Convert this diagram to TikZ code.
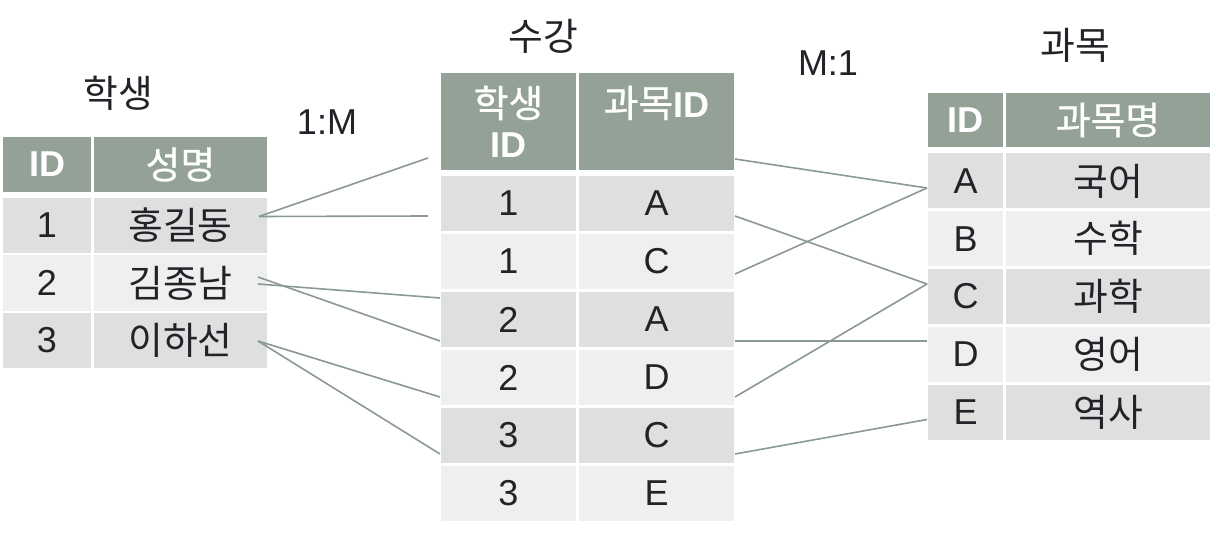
\documentclass[tikz,border=0pt]{standalone}
\usepackage{fontspec}
\setmainfont{Liberation Sans}
\newfontfamily\kr{Noto Sans CJK KR}[Scale=1.05]
\newfontfamily\krh{Noto Sans CJK KR}[Scale=1.05,FakeBold=0.8]
\definecolor{hdrc}{HTML}{93A197}
\definecolor{dkc}{HTML}{DDE0DF}
\definecolor{ltc}{HTML}{EEF0EF}
\definecolor{linec}{HTML}{8A9A8F}
\definecolor{txtc}{HTML}{222228}
\tikzset{
  cell/.style 2 args={minimum width=#1, minimum height=#2, inner sep=0pt, outer sep=0pt,
    font=\fontsize{36}{42}\selectfont, text=txtc, align=center},
  hdr/.style={fill=hdrc, text=white},
  dk/.style={fill=dkc},
  lt/.style={fill=ltc},
  ttl/.style={inner sep=0pt, font=\fontsize{36}{42}\selectfont, text=txtc},
  conn/.style={draw=linec, line width=1.6pt}
}
\begin{document}
\begin{tikzpicture}[x=1pt,y=-1pt]
\useasboundingbox (0,0) rectangle (1216,540);
\fill[white] (0,0) rectangle (1216,540);

% titles
\node[ttl] (t1) at (118,93) {\kr 학생};
\node[ttl] (t2) at (543,36) {\kr 수강};
\node[ttl] (t3) at (1075,45) {\kr 과목};
\node[ttl] (r1) at (327,122) {1:M};
\node[ttl] (r2) at (828,63) {M:1};

% left table 학생
\node[cell={88}{55}, hdr] (sh1) at (47,164.5) {\bfseries ID};
\node[cell={173}{55}, hdr] (sh2) at (180.5,164.5) {\krh 성명};
\node[cell={88}{55}, dk] (si1) at (47,225.5) {1};
\node[cell={173}{55}, dk] (sn1) at (180.5,225.5) {\kr 홍길동};
\node[cell={88}{55}, lt] (si2) at (47,283) {2};
\node[cell={173}{55}, lt] (sn2) at (180.5,283) {\kr 김종남};
\node[cell={88}{55}, dk] (si3) at (47,340.5) {3};
\node[cell={173}{55}, dk] (sn3) at (180.5,340.5) {\kr 이하선};

% middle table 수강
\node[cell={135}{97}, hdr] (mh1) at (508.5,121.5) {{\krh 학생}\\[-2pt]\bfseries ID};
\node[cell={155}{97}, hdr] (mh2) at (656.5,121.5) {{\krh 과목}\bfseries ID\\[-2pt]\phantom{ID}};
\node[cell={135}{55}, dk] (ma1) at (508.5,203.5) {1};
\node[cell={155}{55}, dk] (mb1) at (656.5,203.5) {A};
\node[cell={135}{55}, lt] (ma2) at (508.5,261.5) {1};
\node[cell={155}{55}, lt] (mb2) at (656.5,261.5) {C};
\node[cell={135}{55}, dk] (ma3) at (508.5,319.5) {2};
\node[cell={155}{55}, dk] (mb3) at (656.5,319.5) {A};
\node[cell={135}{55}, lt] (ma4) at (508.5,377.5) {2};
\node[cell={155}{55}, lt] (mb4) at (656.5,377.5) {D};
\node[cell={135}{55}, dk] (ma5) at (508.5,435.5) {3};
\node[cell={155}{55}, dk] (mb5) at (656.5,435.5) {C};
\node[cell={135}{55}, lt] (ma6) at (508.5,493.5) {3};
\node[cell={155}{55}, lt] (mb6) at (656.5,493.5) {E};

% right table 과목
\node[cell={75}{54}, hdr] (rh1) at (965.5,120) {\bfseries ID};
\node[cell={204}{54}, hdr] (rh2) at (1108,120) {\krh 과목명};
\node[cell={75}{55}, dk] (ra) at (965.5,181) {A};
\node[cell={204}{55}, dk] (rna) at (1108,181) {\kr 국어};
\node[cell={75}{55}, lt] (rb) at (965.5,238.75) {B};
\node[cell={204}{55}, lt] (rnb) at (1108,238.75) {\kr 수학};
\node[cell={75}{55}, dk] (rc) at (965.5,296.5) {C};
\node[cell={204}{55}, dk] (rnc) at (1108,296.5) {\kr 과학};
\node[cell={75}{55}, lt] (rd) at (965.5,354.25) {D};
\node[cell={204}{55}, lt] (rnd) at (1108,354.25) {\kr 영어};
\node[cell={75}{55}, dk] (re) at (965.5,412) {E};
\node[cell={204}{55}, dk] (rne) at (1108,412) {\kr 역사};

% connectors 학생 - 수강
\draw[conn] ([shift={(-8,-9)}]sn1.east) -- ([shift={(-13,36.5)}]mh1.west);
\draw[conn] ([shift={(-8,-9)}]sn1.east) -- ([shift={(-13,12.5)}]ma1.west);
\draw[conn] ([shift={(-9,1)}]sn2.east) -- ([shift={(-1,-21.5)}]ma3.west);
\draw[conn] ([shift={(-9,-6)}]sn2.east) -- ([shift={(-1,21.5)}]ma3.west);
\draw[conn] ([shift={(-9,0.5)}]sn3.east) -- ([shift={(-1,19.5)}]ma4.west);
\draw[conn] ([shift={(-9,0.5)}]sn3.east) -- ([shift={(-1,18.5)}]ma5.west);

% connectors 수강 - 과목
\draw[conn] ([shift={(1,37.5)}]mh2.east) -- ([shift={(-1,7)}]ra.west);
\draw[conn] ([shift={(1,12.5)}]mb1.east) -- ([shift={(-1,-12.5)}]rc.west);
\draw[conn] ([shift={(1,12.5)}]mb2.east) -- ([shift={(-1,7)}]ra.west);
\draw[conn] ([shift={(1,21.5)}]mb3.east) -- ([shift={(-1,-13.25)}]rd.west);
\draw[conn] ([shift={(1,19.5)}]mb4.east) -- ([shift={(-1,-12.5)}]rc.west);
\draw[conn] ([shift={(1,18.5)}]mb5.east) -- ([shift={(-1,7.5)}]re.west);
\end{tikzpicture}
\end{document}
